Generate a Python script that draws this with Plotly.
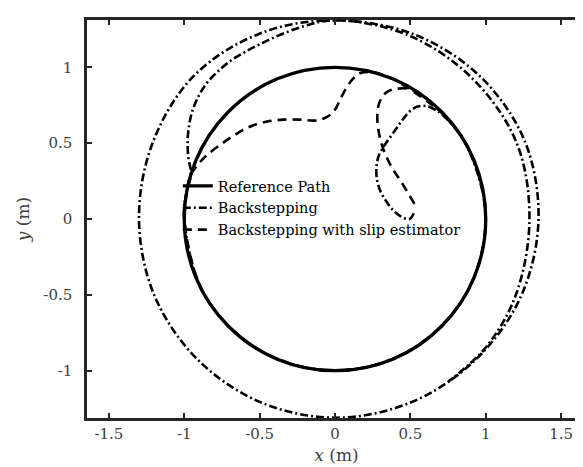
import plotly.graph_objects as go

# ---------------- data ----------------
# Reference path: unit circle
ref_x = [1.0, 0.924, 0.707, 0.383, 0.0, -0.383, -0.707, -0.924, -1.0,
         -0.924, -0.707, -0.383, 0.0, 0.383, 0.707, 0.924, 1.0]
ref_y = [0.0, 0.383, 0.707, 0.924, 1.0, 0.924, 0.707, 0.383, 0.0,
         -0.383, -0.707, -0.924, -1.0, -0.924, -0.707, -0.383, 0.0]

# Backstepping (dash-dot)
bs_x = [0.523, 0.494, 0.439, 0.385, 0.341, 0.303, 0.279, 0.275, 0.292, 0.330,
        0.385, 0.439, 0.494, 0.549, 0.604, 0.659, 0.714,
        0.866, 1.0, 0.866, 0.5, 0.0, -0.5, -0.866, -1.0, -0.985,
        -0.955, -0.972, -0.978, -0.970, -0.950, -0.910, -0.855, -0.780, -0.690,
        -0.580, -0.420, -0.210, 0.0,
        0.507, 0.951, 1.256, 1.35, 1.233, 0.930, 0.501, 0.0, -0.499, -0.919,
        -1.201, -1.30, -1.210, -0.940, -0.505, 0.0,
        0.499, 0.919, 1.206, 1.29, 1.201, 1.004, 0.751]
bs_y = [0.038, 0.0, 0.016, 0.059, 0.115, 0.180, 0.257, 0.345, 0.422, 0.488,
        0.565, 0.642, 0.708, 0.741, 0.745, 0.723, 0.686,
        0.5, 0.0, -0.5, -0.866, -1.0, -0.866, -0.5, 0.0, 0.174,
        0.30, 0.40, 0.51, 0.60, 0.70, 0.80, 0.89, 0.97, 1.045,
        1.11, 1.19, 1.27, 1.31,
        1.224, 0.951, 0.520, 0.0, -0.511, -0.930, -1.210, -1.31, -1.206, -0.919,
        -0.497, 0.0, 0.501, 0.940, 1.220, 1.31,
        1.206, 0.919, 0.499, 0.0, -0.497, -0.842, -1.073]

# Backstepping with slip estimator (dashed)
se_x = [0.527, 0.439, 0.374, 0.319, 0.290, 0.281, 0.297, 0.341, 0.406, 0.480,
        0.550, 0.600,
        0.866, 1.0, 0.866, 0.5, 0.0, -0.5, -0.866, -1.0, -0.985,
        -0.958, -0.900, -0.845, -0.746, -0.648, -0.549, -0.450, -0.340, -0.230,
        -0.120, -0.050, 0.0, 0.040, 0.080, 0.120, 0.170, 0.250,
        0.383, 0.707]
se_y = [0.100, 0.246, 0.345, 0.466, 0.576, 0.686, 0.774, 0.835, 0.858, 0.860,
        0.835, 0.800,
        0.5, 0.0, -0.5, -0.866, -1.0, -0.866, -0.5, 0.0, 0.174,
        0.290, 0.370, 0.425, 0.500, 0.565, 0.615, 0.643, 0.655, 0.655,
        0.650, 0.675, 0.720, 0.800, 0.870, 0.925, 0.962, 0.968,
        0.924, 0.707]

x_ticks = [-1.5, -1, -0.5, 0, 0.5, 1, 1.5]
x_tick_text = ["-1.5", "-1", "-0.5", "0", "0.5", "1", "1.5"]
y_ticks = [-1, -0.5, 0, 0.5, 1]
y_tick_text = ["-1", "-0.5", "0", "0.5", "1"]

# ---------------- figure ----------------
FONT = "DejaVu Serif"
fig = go.Figure()
fig.add_trace(go.Scatter(x=ref_x, y=ref_y, mode="lines", name="Reference Path",
                         line=dict(color="black", width=3.3, shape="spline")))
fig.add_trace(go.Scatter(x=bs_x, y=bs_y, mode="lines", name="Backstepping",
                         line=dict(color="black", width=2.6, shape="spline",
                                   dash="8px,3px,2px,3px")))
fig.add_trace(go.Scatter(x=se_x, y=se_y, mode="lines",
                         name="Backstepping with slip estimator",
                         line=dict(color="black", width=2.6, shape="spline",
                                   dash="9px,6px")))

axis_common = dict(showline=True, linecolor="#262626", linewidth=2.5, mirror="ticks",
                   ticks="inside", ticklen=5, tickwidth=2, tickcolor="#262626",
                   showgrid=False, zeroline=False,
                   tickfont=dict(family=FONT, size=15, color="#404040"))
fig.update_xaxes(range=[-1.645, 1.665], tickvals=x_ticks, ticktext=x_tick_text,
                 title=dict(text="<i>x</i> (m)", font=dict(family=FONT, size=17, color="#404040"),
                            standoff=8),
                 **axis_common)
fig.update_yaxes(range=[-1.312, 1.312], tickvals=y_ticks, ticktext=y_tick_text,
                 ticklabelstandoff=9,
                 title=dict(text="<i>y</i> (m)", font=dict(family=FONT, size=17, color="#404040"),
                            standoff=10),
                 **axis_common)

fig.update_layout(width=583, height=467, autosize=False,
                  margin=dict(l=79, r=2, t=12, b=57),
                  plot_bgcolor="white", paper_bgcolor="white",
                  legend=dict(x=0.182, y=0.623, xanchor="left", yanchor="top",
                              bgcolor="rgba(0,0,0,0)", borderwidth=0,
                              font=dict(family=FONT, size=14.5, color="black")))

fig.write_html("out.html")
